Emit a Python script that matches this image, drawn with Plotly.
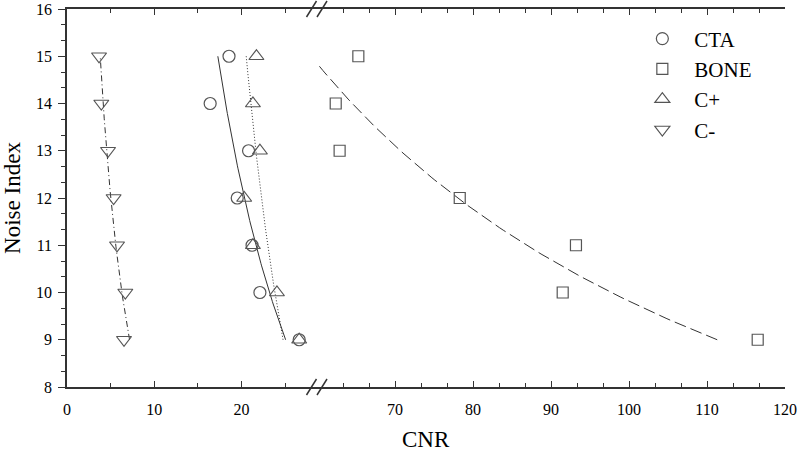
import numpy as np
import plotly.graph_objects as go

noise_index = [15, 14, 13, 12, 11, 10, 9]
cta_cnr = [18.56, 16.4, 20.8, 19.5, 21.2, 22.1, 26.6]
bone_cnr = [65.3, 62.4, 62.9, 78.3, 93.2, 91.5, 116.5]
cplus_cnr = [21.7, 21.3, 22.1, 20.3, 21.3, 24.05, 26.6]
cminus_cnr = [3.67, 3.93, 4.7, 5.34, 5.73, 6.68, 6.53]

x_left_ticks = [0, 10, 20]
x_right_ticks = [70, 80, 90, 100, 110, 120]
y_ticks = [8, 9, 10, 11, 12, 13, 14, 15, 16]

FONT = "Liberation Serif"
AX = "#333333"
MK = "#555555"
LN = "#333333"


def power_fit(y, x):
    ly, lx = np.log(np.array(y, float)), np.log(np.array(x, float))
    b, a = np.polyfit(ly, lx, 1)
    yy = np.linspace(min(y), max(y), 120)
    return np.exp(a + b * np.log(yy)), yy


fig = go.Figure()

series = [
    ("CTA", cta_cnr, "circle-open", 12, "x", "solid"),
    ("BONE", bone_cnr, "square-open", 11, "x2", "12px,5px"),
    ("C+", cplus_cnr, "triangle-up-open", 13, "x", "1px,2px"),
    ("C-", cminus_cnr, "triangle-down-open", 13, "x", "6px,3px,1px,3px"),
]

for name, xs, sym, size, xa, dash in series:
    fx, fy = power_fit(noise_index, xs)
    fig.add_trace(go.Scatter(x=fx, y=fy, mode="lines", xaxis=xa, yaxis="y",
                             line=dict(color=LN, width=1, dash=dash),
                             showlegend=False, hoverinfo="skip"))

for name, xs, sym, size, xa, dash in series:
    fig.add_trace(go.Scatter(x=xs, y=noise_index, mode="markers", name=name,
                             xaxis=xa, yaxis="y",
                             marker=dict(symbol=sym, size=size, color=MK,
                                         line=dict(color=MK, width=1.2))))

f = (317 - 67) / 718.0
tickfont = dict(family=FONT, size=16, color="black")

common_x = dict(showline=True, linecolor=AX, linewidth=1.5, mirror="ticks",
                ticks="inside", ticklen=6, tickwidth=1.2, tickcolor=AX,
                showgrid=False, zeroline=False, tickfont=tickfont,
                ticklabelstandoff=7, automargin=False)

fig.update_layout(
    width=800, height=452,
    margin=dict(l=67, r=15, t=9, b=65, autoexpand=False),
    paper_bgcolor="white", plot_bgcolor="white",
    font=dict(family=FONT, color="black"),
    xaxis=dict(domain=[0, f], range=[0, 28.64], anchor="y",
               tickvals=x_left_ticks,
               minor=dict(dtick=5, tick0=0, ticks="inside", ticklen=4, tickcolor=AX, tickwidth=1.2),
               **common_x),
    xaxis2=dict(domain=[f, 1], range=[60, 120], anchor="y",
                tickvals=x_right_ticks,
                minor=dict(dtick=10 / 3, tick0=60, ticks="inside", ticklen=4, tickcolor=AX, tickwidth=1.2),
                **common_x),
    yaxis=dict(range=[8, 16], anchor="x", side="left", tickvals=y_ticks,
               showline=True, linecolor=AX, linewidth=1.5,
               ticks="outside", ticklen=7, tickwidth=1.2, tickcolor=AX,
               minor=dict(dtick=1 / 3, tick0=8, ticks="outside", ticklen=4, tickcolor=AX, tickwidth=1.2),
               showgrid=False, zeroline=False, tickfont=tickfont, automargin=False,
               ticklabelstandoff=3,
               title=dict(text="Noise Index", font=dict(family=FONT, size=23, color="black"), standoff=14)),
    yaxis2=dict(range=[8, 16], anchor="x2", side="right", overlaying="y",
                tickvals=y_ticks, showticklabels=False, automargin=False,
                showline=True, linecolor=AX, linewidth=1.5,
                ticks="inside", ticklen=7, tickwidth=1.2, tickcolor=AX,
                minor=dict(dtick=1 / 3, tick0=8, ticks="inside", ticklen=4, tickcolor=AX, tickwidth=1.2),
                showgrid=False, zeroline=False),
    legend=dict(x=0.7846, y=0.975, xanchor="left", yanchor="top",
                bgcolor="rgba(0,0,0,0)", borderwidth=0,
                font=dict(family=FONT, size=21, color="black"),
                itemwidth=54, tracegroupgap=0),
    annotations=[dict(text="CNR", xref="paper", yref="paper", x=0.5, y=0,
                      xanchor="center", yanchor="top", yshift=-38, showarrow=False,
                      font=dict(family=FONT, size=23, color="black"))],
)

# axis-break marks (decoration)
H = 718.0
V = 378.0
for xc in (311.5, 322.0):
    for yb in (0, 1):
        fig.add_shape(type="line", xref="paper", yref="paper",
                      x0=(xc - 5 - 67) / H, x1=(xc + 5 - 67) / H,
                      y0=yb - 8 / V, y1=yb + 8 / V,
                      line=dict(color=AX, width=1.5))

fig.write_html("out.html", config={"displayModeBar": False},
               post_script="document.body.style.margin='0';")
